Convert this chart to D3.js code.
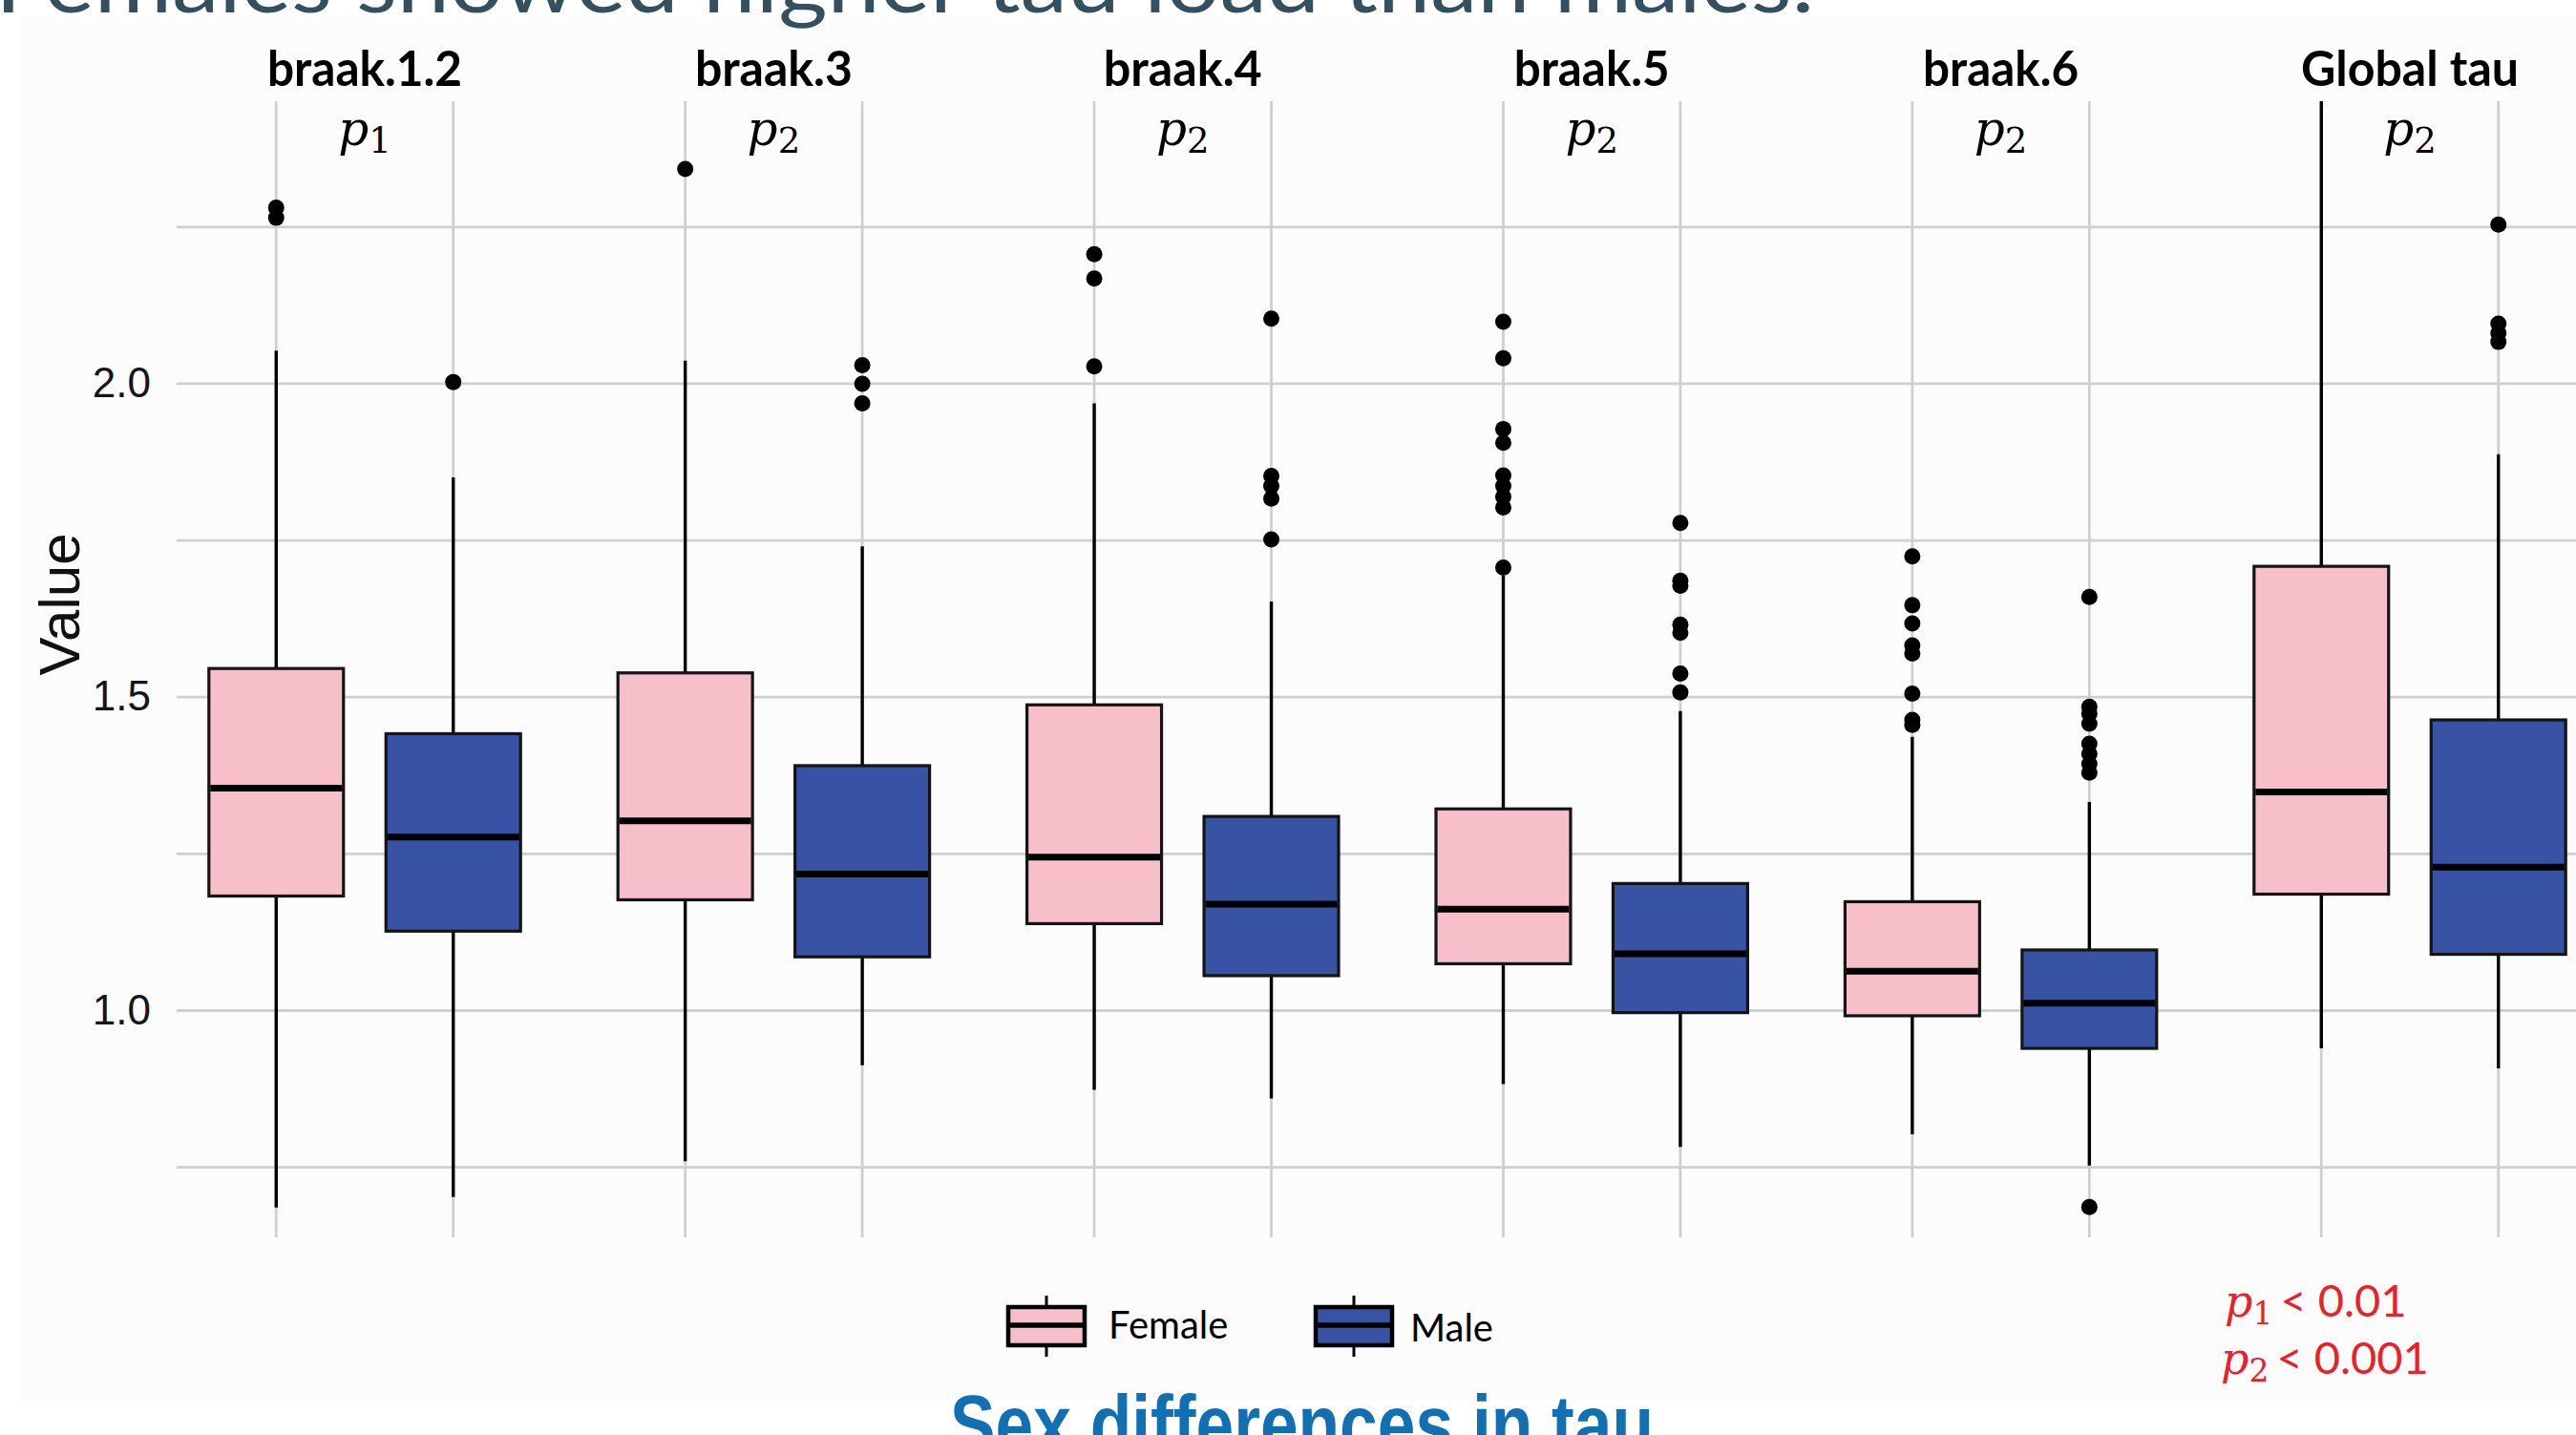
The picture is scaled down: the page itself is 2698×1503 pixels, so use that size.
<!DOCTYPE html>
<html>
<head>
<meta charset="utf-8">
<script src="https://cdn.jsdelivr.net/npm/d3@7"></script>
<style>
  html, body { margin: 0; padding: 0; background: #fff; overflow: hidden; }
</style>
</head>
<body>
<div id="chart"></div>
<script>
// ---- data ----
const regions = ["braak.1.2", "braak.3", "braak.4", "braak.5", "braak.6", "Global tau"];
const sexes = ["Female", "Male"];
const pIndex = ["1", "2", "2", "2", "2", "2"];

// [lower whisker, q1, median, q3, upper whisker]
const femaleBoxes = [
  [0.685, 1.182, 1.354, 1.545, 2.052],
  [0.759, 1.176, 1.302, 1.538, 2.036],
  [0.873, 1.138, 1.244, 1.487, 1.968],
  [0.882, 1.074, 1.161, 1.321, 1.693],
  [0.802, 0.991, 1.062, 1.173, 1.436],
  [0.939, 1.185, 1.348, 1.708, 2.500]
];
const maleBoxes = [
  [0.702, 1.126, 1.276, 1.441, 1.850],
  [0.912, 1.085, 1.217, 1.390, 1.740],
  [0.859, 1.055, 1.169, 1.309, 1.652],
  [0.782, 0.996, 1.090, 1.202, 1.477],
  [0.752, 0.939, 1.011, 1.096, 1.332],
  [0.907, 1.089, 1.228, 1.463, 1.887]
];
const femaleOutliers = [
  [2.264, 2.280],
  [2.342],
  [2.027, 2.167, 2.206],
  [1.706, 1.802, 1.819, 1.836, 1.853, 1.905, 1.927, 2.040, 2.098],
  [1.455, 1.463, 1.505, 1.569, 1.582, 1.617, 1.646, 1.724],
  []
];
const maleOutliers = [
  [2.002],
  [1.968, 1.999, 2.029],
  [1.751, 1.816, 1.836, 1.852, 2.103],
  [1.507, 1.537, 1.602, 1.615, 1.677, 1.685, 1.777],
  [0.686, 1.379, 1.393, 1.409, 1.425, 1.457, 1.473, 1.484, 1.659],
  [2.066, 2.080, 2.095, 2.253]
];
const yTicks = [1.0, 1.5, 2.0];
const yGrid = [0.75, 1.0, 1.25, 1.5, 1.75, 2.0, 2.25];
const pThresholds = [["1", "< 0.01"], ["2", "< 0.001"]];

const slideTitle = "Females showed higher tau load than males.";
const chartCaption = "Sex differences in tau";

// ---- layout ----
const width = 2698, height = 1503;
const panelTop = 106, panelBottom = 1296, panelLeft = 185, panelRight = width;
const colour = { Female: "#f7bfca", Male: "#3953a4" };
const stripWidths = [204, 165, 166, 163, 163, 228];

const svg = d3.select("#chart").append("svg")
    .attr("width", width)
    .attr("height", height)
    .style("display", "block");

svg.append("rect")
    .attr("width", width).attr("height", height)
    .attr("fill", "#ffffff");
svg.append("rect")
    .attr("x", 23).attr("y", 18)
    .attr("width", width - 23).attr("height", 1449)
    .attr("fill", "#fcfcfc");

const y = d3.scaleLinear()
    .domain([0.6375, 2.45])
    .range([panelBottom, panelTop]);

const facetX = d3.scaleBand()
    .domain(regions)
    .range([167.8, 167.8 + 6 * 428.4]);

const sexX = d3.scalePoint()
    .domain(sexes)
    .range([0, facetX.bandwidth()])
    .padding(0.655);

const boxWidth = 0.76 * sexX.step();

svg.append("defs").append("clipPath")
    .attr("id", "panel-clip")
  .append("rect")
    .attr("x", 0).attr("y", panelTop)
    .attr("width", width).attr("height", panelBottom - panelTop);

// horizontal grid
svg.append("g")
    .attr("transform", `translate(${panelLeft},0)`)
    .call(d3.axisLeft(y).tickValues(yGrid).tickSize(-(panelRight - panelLeft)).tickFormat(""))
    .call(g => g.select(".domain").remove())
    .call(g => g.selectAll("line").attr("stroke", "#cfcfcf").attr("stroke-width", 2.8));

// y tick labels
svg.append("g")
    .attr("transform", `translate(${panelLeft},0)`)
    .call(d3.axisLeft(y).tickValues(yTicks).tickSize(0).tickPadding(27).tickFormat(d3.format(".1f")))
    .call(g => g.select(".domain").remove())
    .call(g => g.selectAll("text")
        .attr("fill", "#151515")
        .attr("font-family", "'Liberation Sans', Arial, sans-serif")
        .attr("font-size", 44));

svg.append("text")
    .attr("transform", "translate(83,633) rotate(-90)")
    .attr("text-anchor", "middle")
    .attr("font-family", "'Liberation Sans', Arial, sans-serif")
    .attr("font-size", 60)
    .attr("fill", "#111")
    .text("Value");

const records = regions.flatMap((r, i) => sexes.map(s => ({
  region: r,
  sex: s,
  stats: s === "Female" ? femaleBoxes[i] : maleBoxes[i],
  outliers: s === "Female" ? femaleOutliers[i] : maleOutliers[i]
})));

const cx = d => facetX(d.region) + sexX(d.sex);

// vertical grid
svg.append("g")
  .selectAll("line")
  .data(records)
  .join("line")
    .attr("x1", cx).attr("x2", cx)
    .attr("y1", panelTop).attr("y2", panelBottom)
    .attr("stroke", "#cfcfcf")
    .attr("stroke-width", 2.8);

const marks = svg.append("g").attr("clip-path", "url(#panel-clip)");

const box = marks.selectAll("g.box")
  .data(records)
  .join("g")
    .attr("class", "box");

box.append("line")
    .attr("x1", cx).attr("x2", cx)
    .attr("y1", d => y(d.stats[0])).attr("y2", d => y(d.stats[4]))
    .attr("stroke", "#000")
    .attr("stroke-width", 3.4);

box.append("rect")
    .attr("x", d => cx(d) - boxWidth / 2)
    .attr("width", boxWidth)
    .attr("y", d => y(d.stats[3]))
    .attr("height", d => y(d.stats[1]) - y(d.stats[3]))
    .attr("fill", d => colour[d.sex])
    .attr("stroke", "#141414")
    .attr("stroke-width", 3.2);

box.append("line")
    .attr("x1", d => cx(d) - boxWidth / 2 + 1.5)
    .attr("x2", d => cx(d) + boxWidth / 2 - 1.5)
    .attr("y1", d => y(d.stats[2])).attr("y2", d => y(d.stats[2]))
    .attr("stroke", "#000")
    .attr("stroke-width", 7);

box.selectAll("circle")
  .data(d => d.outliers.map(v => ({ v, x: cx(d) })))
  .join("circle")
    .attr("cx", d => d.x)
    .attr("cy", d => y(d.v))
    .attr("r", 8.5)
    .attr("fill", "#000");

// strip labels
svg.append("g")
  .selectAll("text")
  .data(regions)
  .join("text")
    .attr("x", d => facetX(d) + facetX.bandwidth() / 2)
    .attr("y", 90)
    .attr("text-anchor", "middle")
    .attr("font-family", "Lato, 'Open Sans', sans-serif")
    .attr("font-weight", "bold")
    .attr("font-size", 51)
    .attr("textLength", (d, i) => stripWidths[i])
    .attr("lengthAdjust", "spacingAndGlyphs")
    .attr("fill", "#000")
    .text(d => d);

// p labels under strips
const pText = svg.append("g")
  .selectAll("text")
  .data(regions)
  .join("text")
    .attr("x", d => facetX(d) + facetX.bandwidth() / 2)
    .attr("y", 152)
    .attr("text-anchor", "middle")
    .attr("fill", "#000");
pText.append("tspan")
    .attr("font-family", "'DejaVu Serif', serif")
    .attr("font-style", "italic")
    .attr("font-size", 50)
    .text("p");
pText.append("tspan")
    .attr("dy", 8)
    .attr("font-family", "'DejaVu Serif', serif")
    .attr("font-size", 37)
    .text((d, i) => pIndex[i]);

// legend
const legendX = [1056, 1378];
const legendTextX = [1161, 1477];
const legend = svg.append("g")
  .selectAll("g")
  .data(sexes)
  .join("g");
legend.append("line")
    .attr("x1", (d, i) => legendX[i] + 40).attr("x2", (d, i) => legendX[i] + 40)
    .attr("y1", 1357).attr("y2", 1421)
    .attr("stroke", "#000").attr("stroke-width", 3);
legend.append("rect")
    .attr("x", (d, i) => legendX[i])
    .attr("y", 1369)
    .attr("width", 80).attr("height", 40)
    .attr("fill", d => colour[d])
    .attr("stroke", "#000").attr("stroke-width", 4.5);
legend.append("line")
    .attr("x1", (d, i) => legendX[i]).attr("x2", (d, i) => legendX[i] + 80)
    .attr("y1", 1388).attr("y2", 1388)
    .attr("stroke", "#000").attr("stroke-width", 5.5);
legend.append("text")
    .attr("x", (d, i) => legendTextX[i])
    .attr("y", (d, i) => 1402 + i * 3)
    .attr("font-family", "Lato, 'Open Sans', sans-serif")
    .attr("font-size", 40)
    .attr("fill", "#000")
    .text(d => d);

// p thresholds
const thr = svg.append("g")
  .selectAll("text")
  .data(pThresholds)
  .join("text")
    .attr("x", (d, i) => 2330 - i * 4)
    .attr("y", (d, i) => 1379 + i * 60)
    .attr("fill", "#e8212a");
thr.append("tspan")
    .attr("font-family", "'DejaVu Serif', serif")
    .attr("font-style", "italic")
    .attr("font-size", 46)
    .text("p");
thr.append("tspan")
    .attr("dy", 8)
    .attr("font-family", "'DejaVu Serif', serif")
    .attr("font-size", 33)
    .text(d => d[0]);
thr.append("tspan")
    .attr("dy", -8)
    .attr("dx", 8)
    .attr("font-family", "Lato, 'Open Sans', sans-serif")
    .attr("font-size", 47)
    .text(d => d[1]);

// slide title (cut off at the top) and caption (cut off at the bottom)
svg.append("text")
    .attr("x", -5)
    .attr("y", 13)
    .attr("font-family", "Lato, 'Open Sans', sans-serif")
    .attr("font-size", 90)
    .attr("textLength", 1905)
    .attr("lengthAdjust", "spacingAndGlyphs")
    .attr("fill", "#34505f")
    .text(slideTitle);

svg.append("text")
    .attr("x", 995)
    .attr("y", 1521)
    .attr("font-family", "'Liberation Sans', Arial, sans-serif")
    .attr("font-weight", "bold")
    .attr("font-size", 86)
    .attr("textLength", 737)
    .attr("lengthAdjust", "spacingAndGlyphs")
    .attr("fill", "#1170b1")
    .text(chartCaption);
</script>
</body>
</html>
